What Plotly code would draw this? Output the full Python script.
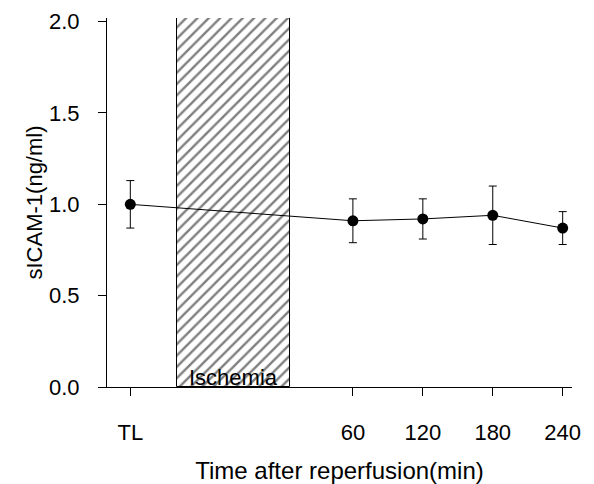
import plotly.graph_objects as go

# Data
time_labels = ["TL", "60", "120", "180", "240"]
time_pos = [-131, 60, 120, 180, 240]          # minutes (TL placed before ischemia)
sicam_mean = [1.00, 0.91, 0.92, 0.94, 0.87]
sicam_err = [0.13, 0.12, 0.11, 0.16, 0.09]
ischemia_start = -91
ischemia_end = 6
ischemia_top = 2.02
y_ticks = [0, 0.5, 1.0, 1.5, 2.0]
y_ticklabels = ["0.0", "0.5", "1.0", "1.5", "2.0"]

FONT = "Liberation Sans, Arial"

fig = go.Figure()

fig.add_trace(go.Bar(
    x=[(ischemia_start + ischemia_end) / 2],
    y=[ischemia_top],
    width=[ischemia_end - ischemia_start],
    base=0,
    marker=dict(color="white", line=dict(color="black", width=1),
                pattern=dict(shape="/", fgcolor="black", bgcolor="white",
                             size=8, solidity=0.3)),
    showlegend=False, hoverinfo="skip",
))

fig.add_trace(go.Scatter(
    x=time_pos, y=sicam_mean,
    mode="lines+markers",
    line=dict(color="black", width=1),
    marker=dict(color="black", size=11),
    error_y=dict(type="data", array=sicam_err, color="black",
                 thickness=1, width=4),
    showlegend=False,
))

fig.add_annotation(
    x=(ischemia_start + ischemia_end) / 2, y=0, yref="y", xref="x",
    text="Ischemia", showarrow=False, yanchor="bottom", yshift=-5,
    bgcolor="rgba(0,0,0,0)",
    font=dict(family=FONT, size=22, color="black"),
)

fig.update_layout(
    width=586, height=476,
    margin=dict(l=99, r=22, t=10, b=97),
    plot_bgcolor="white", paper_bgcolor="white",
    font=dict(family=FONT, size=22, color="black"),
    bargap=0,
    xaxis=dict(
        range=[-151, 248],
        tickvals=time_pos, ticktext=time_labels,
        showgrid=False, zeroline=False,
        showline=True, linecolor="black", linewidth=1,
        ticks="outside", ticklen=8, tickcolor="black",
        ticklabelstandoff=18,
        automargin=False,
        title=dict(text="Time after reperfusion(min)", standoff=18,
                   font=dict(size=24)),
        tickfont=dict(size=22),
    ),
    yaxis=dict(
        range=[0, 2.02],
        tickvals=y_ticks, ticktext=y_ticklabels,
        showgrid=False, zeroline=False,
        showline=True, linecolor="black", linewidth=1,
        ticks="outside", ticklen=8, tickcolor="black",
        ticklabelstandoff=14,
        automargin=False,
        title=dict(text="sICAM-1(ng/ml)", standoff=0, font=dict(size=22)),
        tickfont=dict(size=22),
    ),
)

fig.write_html("out.html")
